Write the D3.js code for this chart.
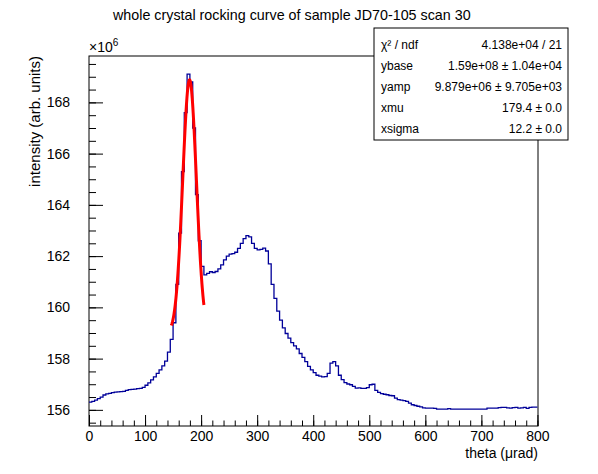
<!DOCTYPE html>
<html>
<head>
<meta charset="utf-8">
<script src="https://cdn.jsdelivr.net/npm/d3@7"></script>
<style>
  body { margin:0; background:#fff; }
  svg text { font-family: "Liberation Sans", Arial, Helvetica, sans-serif; }
</style>
</head>
<body>
<div id="chart"></div>
<script>
(function(window, document, undefined){

// ************** DATA ****************//
// histogram: bins of 5 urad starting at 0, contents in units of 1e6
var binStart = 0;
var binWidth = 5;
var counts = [
  156.30,156.33,156.38,156.44,156.50,156.58,156.62,156.64,156.67,156.69, // 0-45
  156.70,156.71,156.72,156.76,156.79,156.80,156.81,156.83,156.84,156.88, // 50-95
  156.96,157.05,157.17,157.29,157.42,157.56,157.72,157.90,158.25,158.75, // 100-145
  159.40,160.90,162.90,165.30,167.60,169.10,168.80,167.00,164.40,162.60, // 150-195
  161.60,161.27,161.33,161.39,161.36,161.40,161.50,161.66,161.85,162.00, // 200-245
  162.08,162.10,162.15,162.30,162.50,162.68,162.80,162.75,162.50,162.30, // 250-295
  162.24,162.26,162.31,162.20,161.70,160.90,160.35,159.85,159.50,159.20, // 300-345
  158.98,158.80,158.62,158.50,158.38,158.20,158.05,157.88,157.70,157.56, // 350-395
  157.45,157.35,157.32,157.29,157.30,157.42,157.82,157.88,157.72,157.35, // 400-445
  157.18,157.06,157.01,156.98,156.92,156.85,156.86,156.84,156.84,156.87, // 450-495
  156.98,157.00,156.76,156.68,156.63,156.61,156.59,156.56,156.55,156.46, // 500-545
  156.40,156.38,156.36,156.33,156.26,156.20,156.17,156.14,156.12,156.08, // 550-595
  156.07,156.07,156.07,156.06,156.03,156.03,156.03,156.03,156.05,156.03, // 600-645
  156.03,156.03,156.03,156.03,156.03,156.03,156.03,156.03,156.03,156.03, // 650-695
  156.03,156.03,156.07,156.07,156.07,156.07,156.09,156.10,156.10,156.08, // 700-745
  156.07,156.09,156.10,156.07,156.08,156.10,156.06,156.10,156.11,156.11  // 750-795
];

// gaussian fit result (ROOT stats box)
var statNames  = ["\u03c7\u00b2 / ndf", "ybase", "yamp", "xmu", "xsigma"];
var statValues = ["4.138e+04 / 21", "1.59e+08 \u00b1 1.04e+04", "9.879e+06 \u00b1 9.705e+03", "179.4 \u00b1 0.0", "12.2 \u00b1 0.0"];
var fitPars  = [159.0, 9.879, 179.4, 12.2]; // ybase, yamp (1e6), xmu, xsigma
var fitRange = [147, 205];

var xTicks = [0, 100, 200, 300, 400, 500, 600, 700, 800];
var yTicks = [156, 158, 160, 162, 164, 166, 168];

var W = 598, H = 474;
var frame = {left:89, top:56, right:538, bottom:426};

var svg = d3.select("#chart").append("svg")
    .attr("width", W).attr("height", H);

var x = d3.scaleLinear().domain([0, 801]).range([frame.left, frame.right]);
var y = d3.scaleLinear().domain([155.37, 169.81]).range([frame.bottom, frame.top]);

// ************** AXES ****************//
var xMinor = d3.range(0, 801, 20);
var yMinor = d3.range(155.5, 169.81, 0.5);

svg.append("g")
    .attr("transform", "translate(0," + frame.bottom + ")")
    .call(d3.axisBottom(x).tickValues(xMinor).tickSize(-5.5).tickFormat(""))
    .call(function(g){ g.select(".domain").remove(); });
var gx = svg.append("g")
    .attr("transform", "translate(0," + frame.bottom + ")")
    .call(d3.axisBottom(x).tickValues(xTicks).tickSize(-11).tickPadding(5).tickFormat(d3.format("d")));
gx.select(".domain").remove();

svg.append("g")
    .attr("transform", "translate(" + frame.left + ",0)")
    .call(d3.axisLeft(y).tickValues(yMinor).tickSize(-7).tickFormat(""))
    .call(function(g){ g.select(".domain").remove(); });
var gy = svg.append("g")
    .attr("transform", "translate(" + frame.left + ",0)")
    .call(d3.axisLeft(y).tickValues(yTicks).tickSize(-14).tickPadding(19).tickFormat(d3.format("d")));
gy.select(".domain").remove();

svg.selectAll(".tick line").attr("stroke", "#000");
svg.selectAll(".tick text").attr("fill", "#000").style("font-size", "14px");

// frame
svg.append("rect")
    .attr("x", frame.left).attr("y", frame.top)
    .attr("width", frame.right - frame.left).attr("height", frame.bottom - frame.top)
    .attr("fill", "none").attr("stroke", "#000").attr("stroke-width", 1);

// ************** HISTOGRAM ****************//
var steps = counts.map(function(v, i){ return [binStart + i*binWidth, v]; });
steps.push([binStart + counts.length*binWidth, counts[counts.length-1]]);

var stepLine = d3.line()
    .x(function(d){ return x(d[0]); })
    .y(function(d){ return y(d[1]); })
    .curve(d3.curveStepAfter);

svg.append("path")
    .datum(steps)
    .attr("d", stepLine)
    .attr("fill", "none")
    .attr("stroke", "#000099")
    .attr("stroke-width", 1.3);

// ************** FIT ****************//
function gaus(t){
  return fitPars[0] + fitPars[1]*Math.exp(-0.5*Math.pow((t - fitPars[2])/fitPars[3], 2));
}
var fitPts = d3.range(fitRange[0], fitRange[1] + 0.01, 0.58).map(function(t){ return [t, gaus(t)]; });

svg.append("path")
    .datum(fitPts)
    .attr("d", d3.line().x(function(d){ return x(d[0]); }).y(function(d){ return y(d[1]); }))
    .attr("fill", "none")
    .attr("stroke", "#ff0000")
    .attr("stroke-width", 3);

// ************** TEXTS ****************//
svg.append("text")
    .attr("x", 113).attr("y", 20)
    .style("font-size", "14.3px")
    .text("whole crystal rocking curve of sample JD70-105 scan 30");

var mult = svg.append("text")
    .attr("x", frame.left).attr("y", 52)
    .style("font-size", "14px");
mult.append("tspan").text("\u00d710");
mult.append("tspan").attr("dy", -6).style("font-size", "10px").text("6");

svg.append("text")
    .attr("x", frame.right).attr("y", 458)
    .attr("text-anchor", "end")
    .style("font-size", "14px")
    .text("theta (\u03bcrad)");

svg.append("text")
    .attr("transform", "translate(40," + frame.top + ") rotate(-90)")
    .attr("text-anchor", "end")
    .style("font-size", "15px")
    .text("intensity (arb. units)");

// stats box
var box = {x:374, y:28, w:194, h:112};
var sb = svg.append("g");
sb.append("rect")
    .attr("x", box.x).attr("y", box.y)
    .attr("width", box.w).attr("height", box.h)
    .attr("fill", "#fff").attr("stroke", "#000");

var rowY = d3.scalePoint().domain(d3.range(statNames.length)).range([box.y + 17, box.y + box.h - 11]);
sb.selectAll("text.name")
    .data(statNames)
    .enter().append("text")
    .attr("class", "name")
    .attr("x", box.x + 7)
    .attr("y", function(d, i){ return rowY(i) + 4; })
    .style("font-size", "12px")
    .text(function(d){ return d; });
sb.selectAll("text.val")
    .data(statValues)
    .enter().append("text")
    .attr("class", "val")
    .attr("x", box.x + box.w - 6)
    .attr("y", function(d, i){ return rowY(i) + 4; })
    .attr("text-anchor", "end")
    .style("font-size", "12px")
    .text(function(d){ return d; });

})(this, document);
</script>
</body>
</html>
